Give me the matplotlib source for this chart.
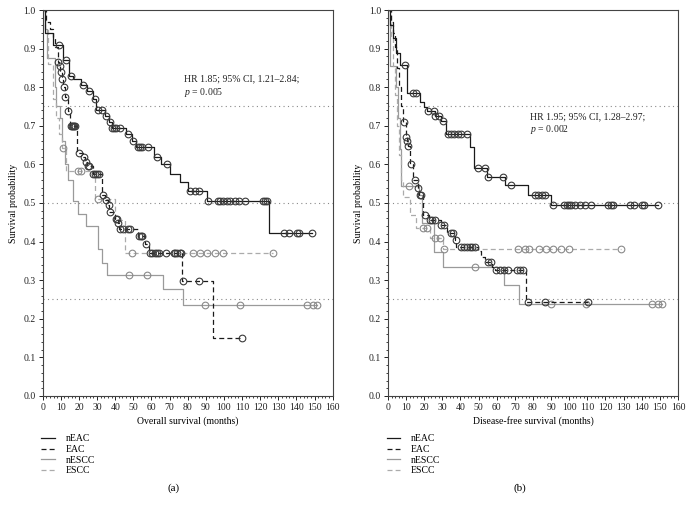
import numpy as np
import matplotlib.pyplot as plt
from matplotlib.lines import Line2D

plt.rcParams['font.family'] = ['Liberation Serif', 'DejaVu Serif']
plt.rcParams['mathtext.fontset'] = 'custom'
plt.rcParams['mathtext.it'] = 'Liberation Serif:italic'
plt.rcParams['mathtext.rm'] = 'Liberation Serif'

# ---- (a) overall survival: step times, survival after step, censor times ----
os_neac_t = [0, 1.2, 5.7, 11, 14.5, 16.5, 21.4, 24.5, 27.5, 29.5, 34.5, 36.5, 38, 46, 49, 51.5, 61.5, 65.5, 70.5, 75.5, 80, 90.5, 124.9]
os_neac_s = [1.0, 0.94, 0.91, 0.87, 0.83, 0.82, 0.805, 0.79, 0.77, 0.74, 0.725, 0.71, 0.695, 0.68, 0.66, 0.645, 0.62, 0.60, 0.575, 0.555, 0.53, 0.506, 0.421]
os_neac_c = [9, 13, 15.4, 22.5, 25.5, 28.8, 30.5, 32.9, 35, 37, 38.5, 39.5, 40.5, 42.7, 47.3, 50, 52.5, 53.5, 55, 58,
             63, 68.4, 81.3, 84, 86.2, 91.4, 96.9, 97.8, 99.3, 101.5, 103.3, 106.1, 108.5, 111.6, 121.4, 122.6, 123.6,
             133.1, 135.7, 140.1, 141.6, 148.4]

os_eac_t = [0, 2, 4, 5.8, 6.9, 8.2, 9.2, 9.8, 10.6, 11.4, 12.3, 13.7, 15.3, 18.9, 22.5, 23.5, 24.5, 27.5, 32.5, 34.5, 36, 36.8, 40, 41.3, 42, 52.5, 56.5, 58.5, 77, 94]
os_eac_s = [1.0, 0.97, 0.95, 0.93, 0.905, 0.864, 0.855, 0.84, 0.82, 0.80, 0.775, 0.738, 0.70, 0.63, 0.618, 0.605, 0.595, 0.575, 0.52, 0.508, 0.495, 0.477, 0.459, 0.447, 0.433, 0.414, 0.394, 0.371, 0.298, 0.15]
os_eac_c = [8.5, 9.4, 10, 10.8, 11.6, 12.5, 13.9, 15.7, 16.3, 16.9, 17.5, 18, 20.1, 23, 23.8, 25, 25.5, 28, 29, 30, 31,
            33.2, 35, 36.5, 37, 40.5, 41, 41.5, 42.5, 44.5, 47, 48, 53, 54, 55, 57, 59, 60.5, 62, 63, 64, 68, 72.5,
            73.2, 74, 75.5, 76.3, 77.3, 86, 110.2]

os_nescc_t = [0, 1.3, 2.2, 6.6, 7.5, 9.5, 10.5, 12.1, 14, 16.7, 19.2, 24, 30.5, 32.5, 35.3, 66.5, 77.3]
os_nescc_s = [1.0, 0.95, 0.876, 0.80, 0.75, 0.72, 0.66, 0.60, 0.56, 0.505, 0.471, 0.44, 0.38, 0.345, 0.314, 0.276, 0.237]
os_nescc_c = [47.8, 57.3, 89.6, 109, 145.6, 149.3, 151.1]

os_escc_t = [0, 1.5, 2.9, 5.7, 7.5, 9, 10.5, 13, 28.8, 39.8, 45.2]
os_escc_s = [1.0, 0.95, 0.86, 0.77, 0.72, 0.68, 0.642, 0.583, 0.51, 0.456, 0.37]
os_escc_c = [11.2, 19.5, 21.3, 30.7, 49.5, 83, 86.7, 90.5, 95, 99.3, 126.9]

# ---- (b) disease-free survival ----
dfs_neac_t = [0, 1, 2.6, 4.6, 6.5, 10.7, 17.5, 19.9, 21.5, 25.8, 29.5, 32, 45.2, 47.6, 54.5, 64.5, 77, 90.2]
dfs_neac_s = [1.0, 0.96, 0.927, 0.889, 0.858, 0.785, 0.762, 0.748, 0.738, 0.725, 0.712, 0.68, 0.646, 0.59, 0.568, 0.547, 0.522, 0.494]
dfs_neac_c = [9.2, 13.8, 15.7, 22.1, 25.4, 26.1, 28.3, 30.4, 32.9, 34.8, 36.5, 38.5, 40.5, 43.4, 49.7, 53.3, 55.2, 63.5,
              68, 81, 82.5, 85, 86.5, 91.1, 97.2, 98.5, 99.8, 101.2, 103, 105.8, 108.5, 111.8, 121.2, 123, 124,
              133.4, 135.8, 140.2, 141.3, 148.7]

dfs_eac_t = [0, 1.5, 2.5, 3.7, 5, 6, 7, 8.3, 9.8, 10.5, 10.9, 12.3, 14, 16.5, 17.3, 19.5, 22.5, 29, 32.5, 36.8, 37.5, 49.5, 51.5, 53.3, 57.5, 59, 76.4]
dfs_eac_s = [1.0, 0.97, 0.94, 0.905, 0.85, 0.80, 0.75, 0.709, 0.672, 0.66, 0.648, 0.60, 0.56, 0.54, 0.52, 0.469, 0.456, 0.444, 0.421, 0.404, 0.387, 0.375, 0.36, 0.348, 0.333, 0.326, 0.244]
dfs_eac_c = [8.8, 10.1, 10.6, 11, 12.9, 14.7, 16.6, 17.5, 18.2, 20.2, 23, 24.3, 26, 29.5, 31, 34.5, 36, 37.3, 40.5, 42,
             43.5, 45, 46.5, 47.8, 55, 57, 59.8, 62, 64, 66, 71, 72.8, 74.5, 77, 86.5, 110.3]

dfs_nescc_t = [0, 1.3, 4.5, 5.5, 6.5, 7.4, 17, 18.8, 25.5, 30.4, 64, 72.5]
dfs_nescc_s = [1.0, 0.855, 0.80, 0.72, 0.64, 0.544, 0.52, 0.447, 0.372, 0.335, 0.288, 0.238]
dfs_nescc_c = [11.4, 47.9, 90.2, 109.5, 145.6, 148.7, 151.2]

dfs_escc_t = [0, 1.5, 2.8, 4, 5, 5.9, 7, 8.5, 12.2, 15.6, 23, 30.5]
dfs_escc_s = [1.0, 0.93, 0.855, 0.78, 0.70, 0.625, 0.56, 0.515, 0.47, 0.434, 0.41, 0.38]
dfs_escc_c = [19.3, 21.7, 26, 28.5, 31, 71.7, 75.4, 77.6, 83.3, 87.4, 91.0, 95.3, 99.7, 128.4]

groups = ['nEAC', 'EAC', 'nESCC', 'ESCC']
hr_texts = ['HR 1.85; 95% CI, 1.21\u20132.84;\n$\\mathit{p}$ = 0.005',
            'HR 1.95; 95% CI, 1.28\u20132.97;\n$\\mathit{p}$ = 0.002']
xlabels = ['Overall survival (months)', 'Disease-free survival (months)']
panel_tags = ['(a)', '(b)']

styles = {
    'nEAC': dict(color='#1a1a1a', ls='-'),
    'EAC': dict(color='#1a1a1a', ls=(0, (4, 2.5))),
    'nESCC': dict(color='#9a9a9a', ls='-'),
    'ESCC': dict(color='#ababab', ls=(0, (4, 2.5))),
}
mark_edge = {'nEAC': '#3a3a3a', 'EAC': '#3a3a3a', 'nESCC': '#8a8a8a', 'ESCC': '#8a8a8a'}


def draw_km(ax, t, s, c, name):
    t = np.asarray(t, float)
    s = np.asarray(s, float)
    c = np.asarray(c, float)
    end = max(t.max(), c.max())
    st = styles[name]
    ax.step(np.append(t, end), np.append(s, s[-1]), where='post',
            color=st['color'], ls=st['ls'], lw=0.9)
    cy = s[np.searchsorted(t, c, side='right') - 1]
    ax.plot(c, cy, 'o', ms=4.8, mfc='none', mec=mark_edge[name], mew=0.8)


fig = plt.figure(figsize=(6.9, 5.13), dpi=100)
ax_a = fig.add_axes([0.0619, 0.2281, 0.4203, 0.7524])
ax_b = fig.add_axes([0.5623, 0.2281, 0.4203, 0.7524])

panels = [
    (ax_a, [(os_nescc_t, os_nescc_s, os_nescc_c, 'nESCC'), (os_escc_t, os_escc_s, os_escc_c, 'ESCC'),
            (os_eac_t, os_eac_s, os_eac_c, 'EAC'), (os_neac_t, os_neac_s, os_neac_c, 'nEAC')],
     (77.8, 0.833)),
    (ax_b, [(dfs_nescc_t, dfs_nescc_s, dfs_nescc_c, 'nESCC'), (dfs_escc_t, dfs_escc_s, dfs_escc_c, 'ESCC'),
            (dfs_eac_t, dfs_eac_s, dfs_eac_c, 'EAC'), (dfs_neac_t, dfs_neac_s, dfs_neac_c, 'nEAC')],
     (78.2, 0.736)),
]

for i, (ax, curves, txt_pos) in enumerate(panels):
    for y in (0.25, 0.5, 0.75):
        ax.axhline(y, color='#8a8a8a', ls=(0, (1, 3)), lw=0.8, zorder=1)
    for t, s, c, name in curves:
        draw_km(ax, t, s, c, name)

    ax.set_xlim(0, 160)
    ax.set_ylim(0, 1.0)
    ax.set_xticks(np.arange(0, 161, 10))
    ax.set_xticks(np.arange(0, 161, 2), minor=True)
    ax.set_yticks(np.arange(0, 1.01, 0.1))
    ax.set_yticks(np.arange(0, 1.001, 0.02), minor=True)
    ax.set_yticklabels([f'{v:.1f}' for v in np.arange(0, 1.01, 0.1)])
    ax.tick_params(which='major', length=3, width=0.7, labelsize=7, pad=2, colors='#222222')
    ax.tick_params(which='minor', length=1.5, width=0.6, colors='#222222')
    for sp in ax.spines.values():
        sp.set_linewidth(0.8)
        sp.set_color('#444444')
    ax.set_xlabel(xlabels[i], fontsize=7, labelpad=3)
    ax.set_ylabel('Survival probability', fontsize=7, labelpad=4)

    ax.text(txt_pos[0], txt_pos[1], hr_texts[i], fontsize=7, va='top', ha='left',
            linespacing=1.25, color='#222222')

    handles = [Line2D([], [], color=styles[g]['color'], ls=styles[g]['ls'], lw=0.9) for g in groups]
    ax.legend(handles, groups, loc='upper left', bbox_to_anchor=(-0.005, -0.099), frameon=False,
              fontsize=7, handlelength=1.4, handletextpad=1.1, labelspacing=0.18,
              borderpad=0, borderaxespad=0)

fig.text(0.251, 0.049, panel_tags[0], fontsize=8, ha='center', va='center')
fig.text(0.754, 0.049, panel_tags[1], fontsize=8, ha='center', va='center')

fig.savefig('out.png', dpi=100)
